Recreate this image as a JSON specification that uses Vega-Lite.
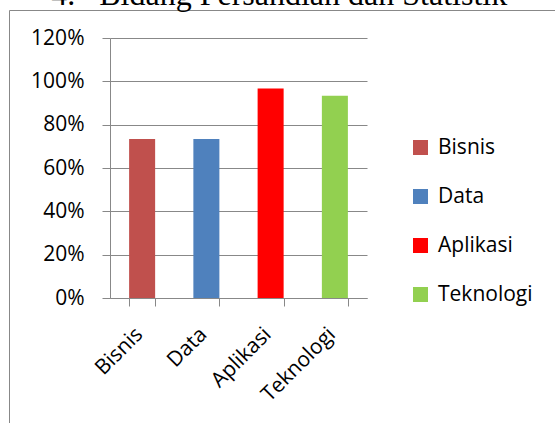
{
  "$schema": "https://vega.github.io/schema/vega-lite/v6.json",
  "width": 547,
  "height": 414,
  "autosize": {"type": "none"},
  "padding": {"left": 9, "top": 10, "right": -1, "bottom": -1},
  "background": "white",
  "title": {
    "text": "4.\u00a0\u00a0 Bidang Persandian dan Statistik",
    "anchor": "start",
    "dx": 50,
    "dy": 27,
    "offset": 0,
    "baseline": "alphabetic",
    "font": "Liberation Serif",
    "fontSize": 32,
    "fontWeight": "normal",
    "color": "#000000"
  },
  "data": {
    "values": [
      {"bidang": "Bisnis", "nilai": 0.7333},
      {"bidang": "Data", "nilai": 0.7333},
      {"bidang": "Aplikasi", "nilai": 0.9667},
      {"bidang": "Teknologi", "nilai": 0.9333}
    ]
  },
  "mark": {"type": "bar"},
  "encoding": {
    "x": {
      "field": "bidang",
      "type": "nominal",
      "sort": null,
      "scale": {"range": [101, 358], "paddingInner": 0.595, "paddingOuter": 0.2975},
      "axis": {
        "title": null,
        "offset": -126,
        "labelAngle": -45,
        "labelAlign": "right",
        "labelBaseline": "middle",
        "tickBand": "extent",
        "tickSize": 8,
        "tickColor": "#888888",
        "domainColor": "#888888",
        "labelFont": "Open Sans",
        "labelFontSize": 21,
        "labelColor": "#000000",
        "labelPadding": 25,
        "labelOffset": -3,
        "labelOverlap": false,
        "grid": false
      }
    },
    "y": {
      "field": "nilai",
      "type": "quantitative",
      "scale": {"domain": [0, 1.2], "range": [288, 28], "nice": false},
      "axis": {
        "title": null,
        "offset": -101,
        "values": [0, 0.2, 0.4, 0.6, 0.8, 1, 1.2],
        "format": ".0%",
        "tickSize": 8,
        "tickColor": "#888888",
        "domainColor": "#888888",
        "grid": true,
        "gridColor": "#888888",
        "labelFont": "Open Sans",
        "labelFontSize": 21,
        "labelColor": "#000000",
        "labelPadding": 18
      }
    },
    "color": {
      "field": "bidang",
      "type": "nominal",
      "sort": null,
      "scale": {
        "domain": ["Bisnis", "Data", "Aplikasi", "Teknologi"],
        "range": ["#C0504D", "#4F81BD", "#FF0000", "#92D050"]
      },
      "legend": {
        "orient": "none",
        "legendX": 401,
        "legendY": 127,
        "title": null,
        "symbolType": "square",
        "symbolSize": 225,
        "symbolStrokeWidth": 0,
        "symbolOpacity": 1,
        "labelFont": "Open Sans",
        "labelFontSize": 21,
        "labelColor": "#000000",
        "labelOffset": 7,
        "rowPadding": 27,
        "padding": 0
      }
    }
  },
  "config": {"view": {"stroke": "#888888", "strokeWidth": 1}}
}
